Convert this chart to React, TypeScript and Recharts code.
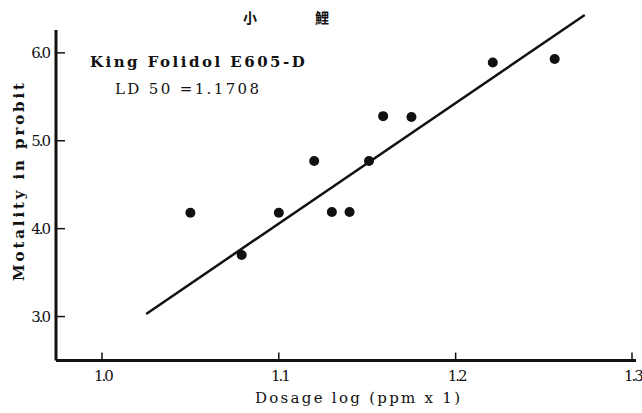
import React from "react";
import { ScatterChart, Scatter, XAxis, YAxis, ReferenceLine, Customized } from "recharts";

const dosageLog = [1.05, 1.079, 1.1, 1.12, 1.13, 1.14, 1.151, 1.159, 1.175, 1.221, 1.256];
const probit = [4.18, 3.7, 4.18, 4.77, 4.19, 4.19, 4.77, 5.28, 5.27, 5.89, 5.93];
const lineX = [1.025, 1.273];
const lineY = [3.03, 6.43];
const xTicks = [1.0, 1.1, 1.2, 1.3];
const yTicks = [3, 4, 5, 6];

const points = dosageLog.map((x, i) => ({ x, y: probit[i] }));
const TYPE = "'DejaVu Serif', serif";
const INK = "#111";

const YTick = (props: any) => {
  const { x, y, payload } = props;
  return (
    <g>
      <line x1={x} y1={y} x2={x + 9} y2={y} stroke={INK} strokeWidth={1.5} />
      <text x={x - 7} y={y + 5} textAnchor="end" fontFamily={TYPE} fontSize={15} letterSpacing={-2} fill={INK}>
        {Number(payload.value).toFixed(1)}
      </text>
    </g>
  );
};

const XTick = (props: any) => {
  const { x, y, payload } = props;
  return (
    <g>
      <line x1={x} y1={y} x2={x} y2={y - 8} stroke={INK} strokeWidth={1.5} />
      <text x={x + 1} y={y + 20} textAnchor="middle" fontFamily={TYPE} fontSize={15} letterSpacing={-2} fill={INK}>
        {Number(payload.value).toFixed(1)}
      </text>
    </g>
  );
};

const Annotations = () => (
  <g>
    <text x={250} y={23} textAnchor="middle" fontFamily="'Noto Sans CJK JP'" fontSize={14} fontWeight="bold" fill={INK}>小</text>
    <text x={322} y={23} textAnchor="middle" fontFamily="'Noto Sans CJK JP'" fontSize={14} fontWeight="bold" fill={INK}>鯉</text>
    <text x={90} y={67} fontFamily={TYPE} fontSize={15} fontWeight="bold" letterSpacing={1.3} textLength={216} fill={INK}>King Folidol E605-D</text>
    <text x={115} y={94} fontFamily={TYPE} fontSize={15} letterSpacing={1.0} textLength={145} fill={INK}>LD 50 =1.1708</text>
    <text x={255} y={403} fontFamily={TYPE} fontSize={15} textLength={205} fill={INK}>Dosage log (ppm x 1)</text>
    <text x={24} y={182} textAnchor="middle" transform="rotate(-90 24 182)" fontFamily={TYPE} fontSize={15} fontWeight="bold" textLength={198} fill={INK}>Motality in probit</text>
  </g>
);

export default function App() {
  return (
    <div style={{ position: "absolute", left: 0, top: 0, width: 642, height: 413, background: "#fff" }}>
      <ScatterChart width={642} height={413} margin={{ top: 30, right: 6, bottom: 0, left: 0 }}>
        <XAxis
          type="number"
          dataKey="x"
          domain={[0.974, 1.302]}
          ticks={xTicks}
          height={52.5}
          tickSize={0}
          tickMargin={0}
          tickLine={false}
          tick={<XTick />}
          axisLine={{ stroke: INK, strokeWidth: 3 }}
          allowDataOverflow
        />
        <YAxis
          type="number"
          dataKey="y"
          domain={[2.5, 6.26]}
          ticks={yTicks}
          width={56}
          tickSize={0}
          tickMargin={0}
          tickLine={false}
          tick={<YTick />}
          axisLine={{ stroke: INK, strokeWidth: 3 }}
          allowDataOverflow
        />
        <ReferenceLine
          segment={[{ x: lineX[0], y: lineY[0] }, { x: lineX[1], y: lineY[1] }]}
          stroke={INK}
          strokeWidth={2.5}
          ifOverflow="visible"
        />
        <Scatter data={points} fill={INK} isAnimationActive={false} shape={(p: any) => <circle cx={p.cx} cy={p.cy} r={5} fill={INK} />} />
        <Customized component={Annotations} />
      </ScatterChart>
    </div>
  );
}
